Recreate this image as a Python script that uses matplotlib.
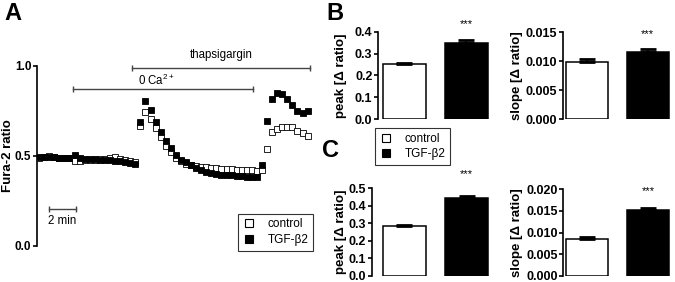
import numpy as np
import matplotlib
matplotlib.use("Agg")
import matplotlib.pyplot as plt
from matplotlib.lines import Line2D

plt.rcParams['font.family'] = ['Liberation Sans', 'DejaVu Sans']
plt.rcParams['mathtext.default'] = 'regular'

# ---- data: panel A (Fura-2 trace, one sample every 0.375 min) ----
sample_interval = 0.375  # min
tgf_ratio = [0.495, 0.497, 0.495, 0.493, 0.490, 0.488, 0.487, 0.505, 0.490, 0.485,
             0.483, 0.482, 0.480, 0.478, 0.477, 0.475, 0.472, 0.468, 0.463, 0.458,
             0.689, 0.805, 0.754, 0.689, 0.632, 0.583, 0.543, 0.505, 0.480, 0.465,
             0.450, 0.435, 0.422, 0.413, 0.405, 0.400, 0.397, 0.395, 0.392, 0.390,
             0.388, 0.386, 0.384, 0.382,
             0.452, 0.694, 0.817, 0.852, 0.844, 0.815, 0.783, 0.748, 0.737, 0.750]
ctrl_ratio = [0.490, 0.497, 0.500, 0.495, 0.490, 0.490, 0.487, 0.470, 0.475, 0.480,
              0.480, 0.478, 0.482, 0.485, 0.490, 0.492, 0.485, 0.478, 0.473, 0.468,
              0.666, 0.744, 0.708, 0.654, 0.607, 0.558, 0.520, 0.490, 0.470, 0.458,
              0.450, 0.445, 0.440, 0.437, 0.435, 0.432, 0.430, 0.428, 0.427, 0.425,
              0.423, 0.422, 0.420, 0.418,
              0.420, 0.537, 0.633, 0.648, 0.659, 0.663, 0.659, 0.640, 0.626, 0.613]
time_min = np.arange(len(tgf_ratio)) * sample_interval

zero_ca = (2.52, 15.85)        # min
thapsigargin = (6.9, 20.05)    # min

# ---- data: panels B and C (control, TGF-beta2) ----
groups = ['control', 'TGF-β2']
b_peak, b_peak_err = [0.250, 0.350], [0.008, 0.010]
b_slope, b_slope_err = [0.0099, 0.0116], [0.0004, 0.0005]
c_peak, c_peak_err = [0.285, 0.445], [0.007, 0.010]
c_slope, c_slope_err = [0.0086, 0.0151], [0.0003, 0.0005]

W, H = 675, 282
fig = plt.figure(figsize=(W / 100, H / 100), dpi=100)


def px_axes(left, top, right, bottom):
    return fig.add_axes([left / W, 1 - bottom / H, (right - left) / W, (bottom - top) / H])


# ---- Panel A ----
axA = px_axes(37, 66, 312, 246)
axA.plot(time_min, ctrl_ratio, 's', ms=4.4, mfc='white', mec='black', mew=0.6, ls='none', zorder=3)
axA.plot(time_min, tgf_ratio, 's', ms=4.4, mfc='black', mec='black', mew=0.6, ls='none', zorder=4)
axA.set_xlim(-0.15, 20.2)
axA.set_ylim(0, 1.0)
axA.set_yticks([0.0, 0.5, 1.0])
axA.set_yticklabels(['0.0', '0.5', '1.0'], fontsize=8.5, fontweight='bold')
axA.set_xticks([])
for s in ['top', 'right', 'bottom']:
    axA.spines[s].set_visible(False)
axA.spines['left'].set_linewidth(1.2)
axA.tick_params(axis='y', length=3, width=1.2, pad=1)
axA.set_ylabel('Fura-2 ratio', fontsize=9.5, fontweight='bold')
axA.yaxis.set_label_coords(-0.082, 0.5)

bar_color = '#444444'
axA.plot(thapsigargin, [0.99, 0.99], color=bar_color, lw=1, marker='|', ms=5, clip_on=False)
axA.text(np.mean(thapsigargin), 1.03, 'thapsigargin', ha='center', va='bottom', fontsize=8.3)
axA.plot(zero_ca, [0.87, 0.87], color=bar_color, lw=1, marker='|', ms=5, clip_on=False)
axA.text(8.7, 0.88, '0 Ca$^{2+}$', ha='center', va='bottom', fontsize=8.3)
axA.plot([0.74, 2.74], [0.205, 0.205], color=bar_color, lw=1, marker='|', ms=5)
axA.text(1.74, 0.17, '2 min', ha='center', va='top', fontsize=8.3)

handles = [Line2D([], [], marker='s', ls='none', ms=5.5, mfc='white', mec='black', mew=0.8),
           Line2D([], [], marker='s', ls='none', ms=5.5, mfc='black', mec='black', mew=0.8)]
leg_kw = dict(fontsize=8.5, frameon=True, fancybox=False, edgecolor='black',
              handlelength=1.0, handletextpad=1.1, borderpad=0.4, labelspacing=0.3,
              borderaxespad=0)
legA = axA.legend(handles, groups, loc='lower right', bbox_to_anchor=(1.005, -0.025), **leg_kw)
legA.get_frame().set_linewidth(0.8)


# ---- Panels B and C ----
def bar_panel(box, xlim, ylim, ticks, fmt, values, errs, ylabel, label_x, star_y):
    ax = px_axes(*box)
    ax.bar([0, 1], values, width=0.69, color=['white', 'black'], edgecolor='black', lw=1.1)
    ax.errorbar([0, 1], values, yerr=[[0, 0], errs], fmt='none', ecolor='black',
                elinewidth=1.2, capsize=6, capthick=2)
    ax.set_xlim(*xlim)
    ax.set_ylim(*ylim)
    ax.set_yticks(ticks)
    ax.set_yticklabels([fmt % t for t in ticks], fontsize=9, fontweight='bold')
    ax.set_xticks([])
    for s in ['top', 'right', 'bottom']:
        ax.spines[s].set_visible(False)
    ax.spines['left'].set_linewidth(1.2)
    ax.tick_params(axis='y', length=3, width=1.2, pad=1)
    ax.set_ylabel(ylabel, fontsize=9.5, fontweight='bold')
    ax.yaxis.set_label_coords(label_x, 0.5)
    ax.text(1, star_y, '***', ha='center', va='center', fontsize=8, clip_on=False)
    return ax


bar_panel((378, 31.7, 490, 119), (-0.427, 1.379), (0, 0.4), [0, 0.1, 0.2, 0.3, 0.4], '%.1f',
          b_peak, b_peak_err, 'peak [Δ ratio]', -0.277, 0.435)
bar_panel((563, 32.3, 672, 119), (-0.388, 1.396), (0, 0.015), [0, 0.005, 0.010, 0.015], '%.3f',
          b_slope, b_slope_err, 'slope [Δ ratio]', -0.37, 0.0147)
bar_panel((371.7, 188.3, 490, 275.7), (-0.529, 1.379), (0, 0.5), [0, 0.1, 0.2, 0.3, 0.4, 0.5], '%.1f',
          c_peak, c_peak_err, 'peak [Δ ratio]', -0.209, 0.58)
bar_panel((563.3, 189.3, 672, 275.7), (-0.388, 1.396), (0, 0.020), [0, 0.005, 0.010, 0.015, 0.020], '%.3f',
          c_slope, c_slope_err, 'slope [Δ ratio]', -0.37, 0.0195)

legC = fig.legend(handles, groups, loc='upper left', bbox_to_anchor=(375 / W, 1 - 128 / H), **leg_kw)
legC.get_frame().set_linewidth(0.8)

# panel letters
fig.text(4 / W, 1 - 2 / H, 'A', fontsize=17, fontweight='bold', va='top')
fig.text(326 / W, 1 - 2 / H, 'B', fontsize=17, fontweight='bold', va='top')
fig.text(322 / W, 1 - 139 / H, 'C', fontsize=17, fontweight='bold', va='top')

fig.savefig('out.png', dpi=100)
